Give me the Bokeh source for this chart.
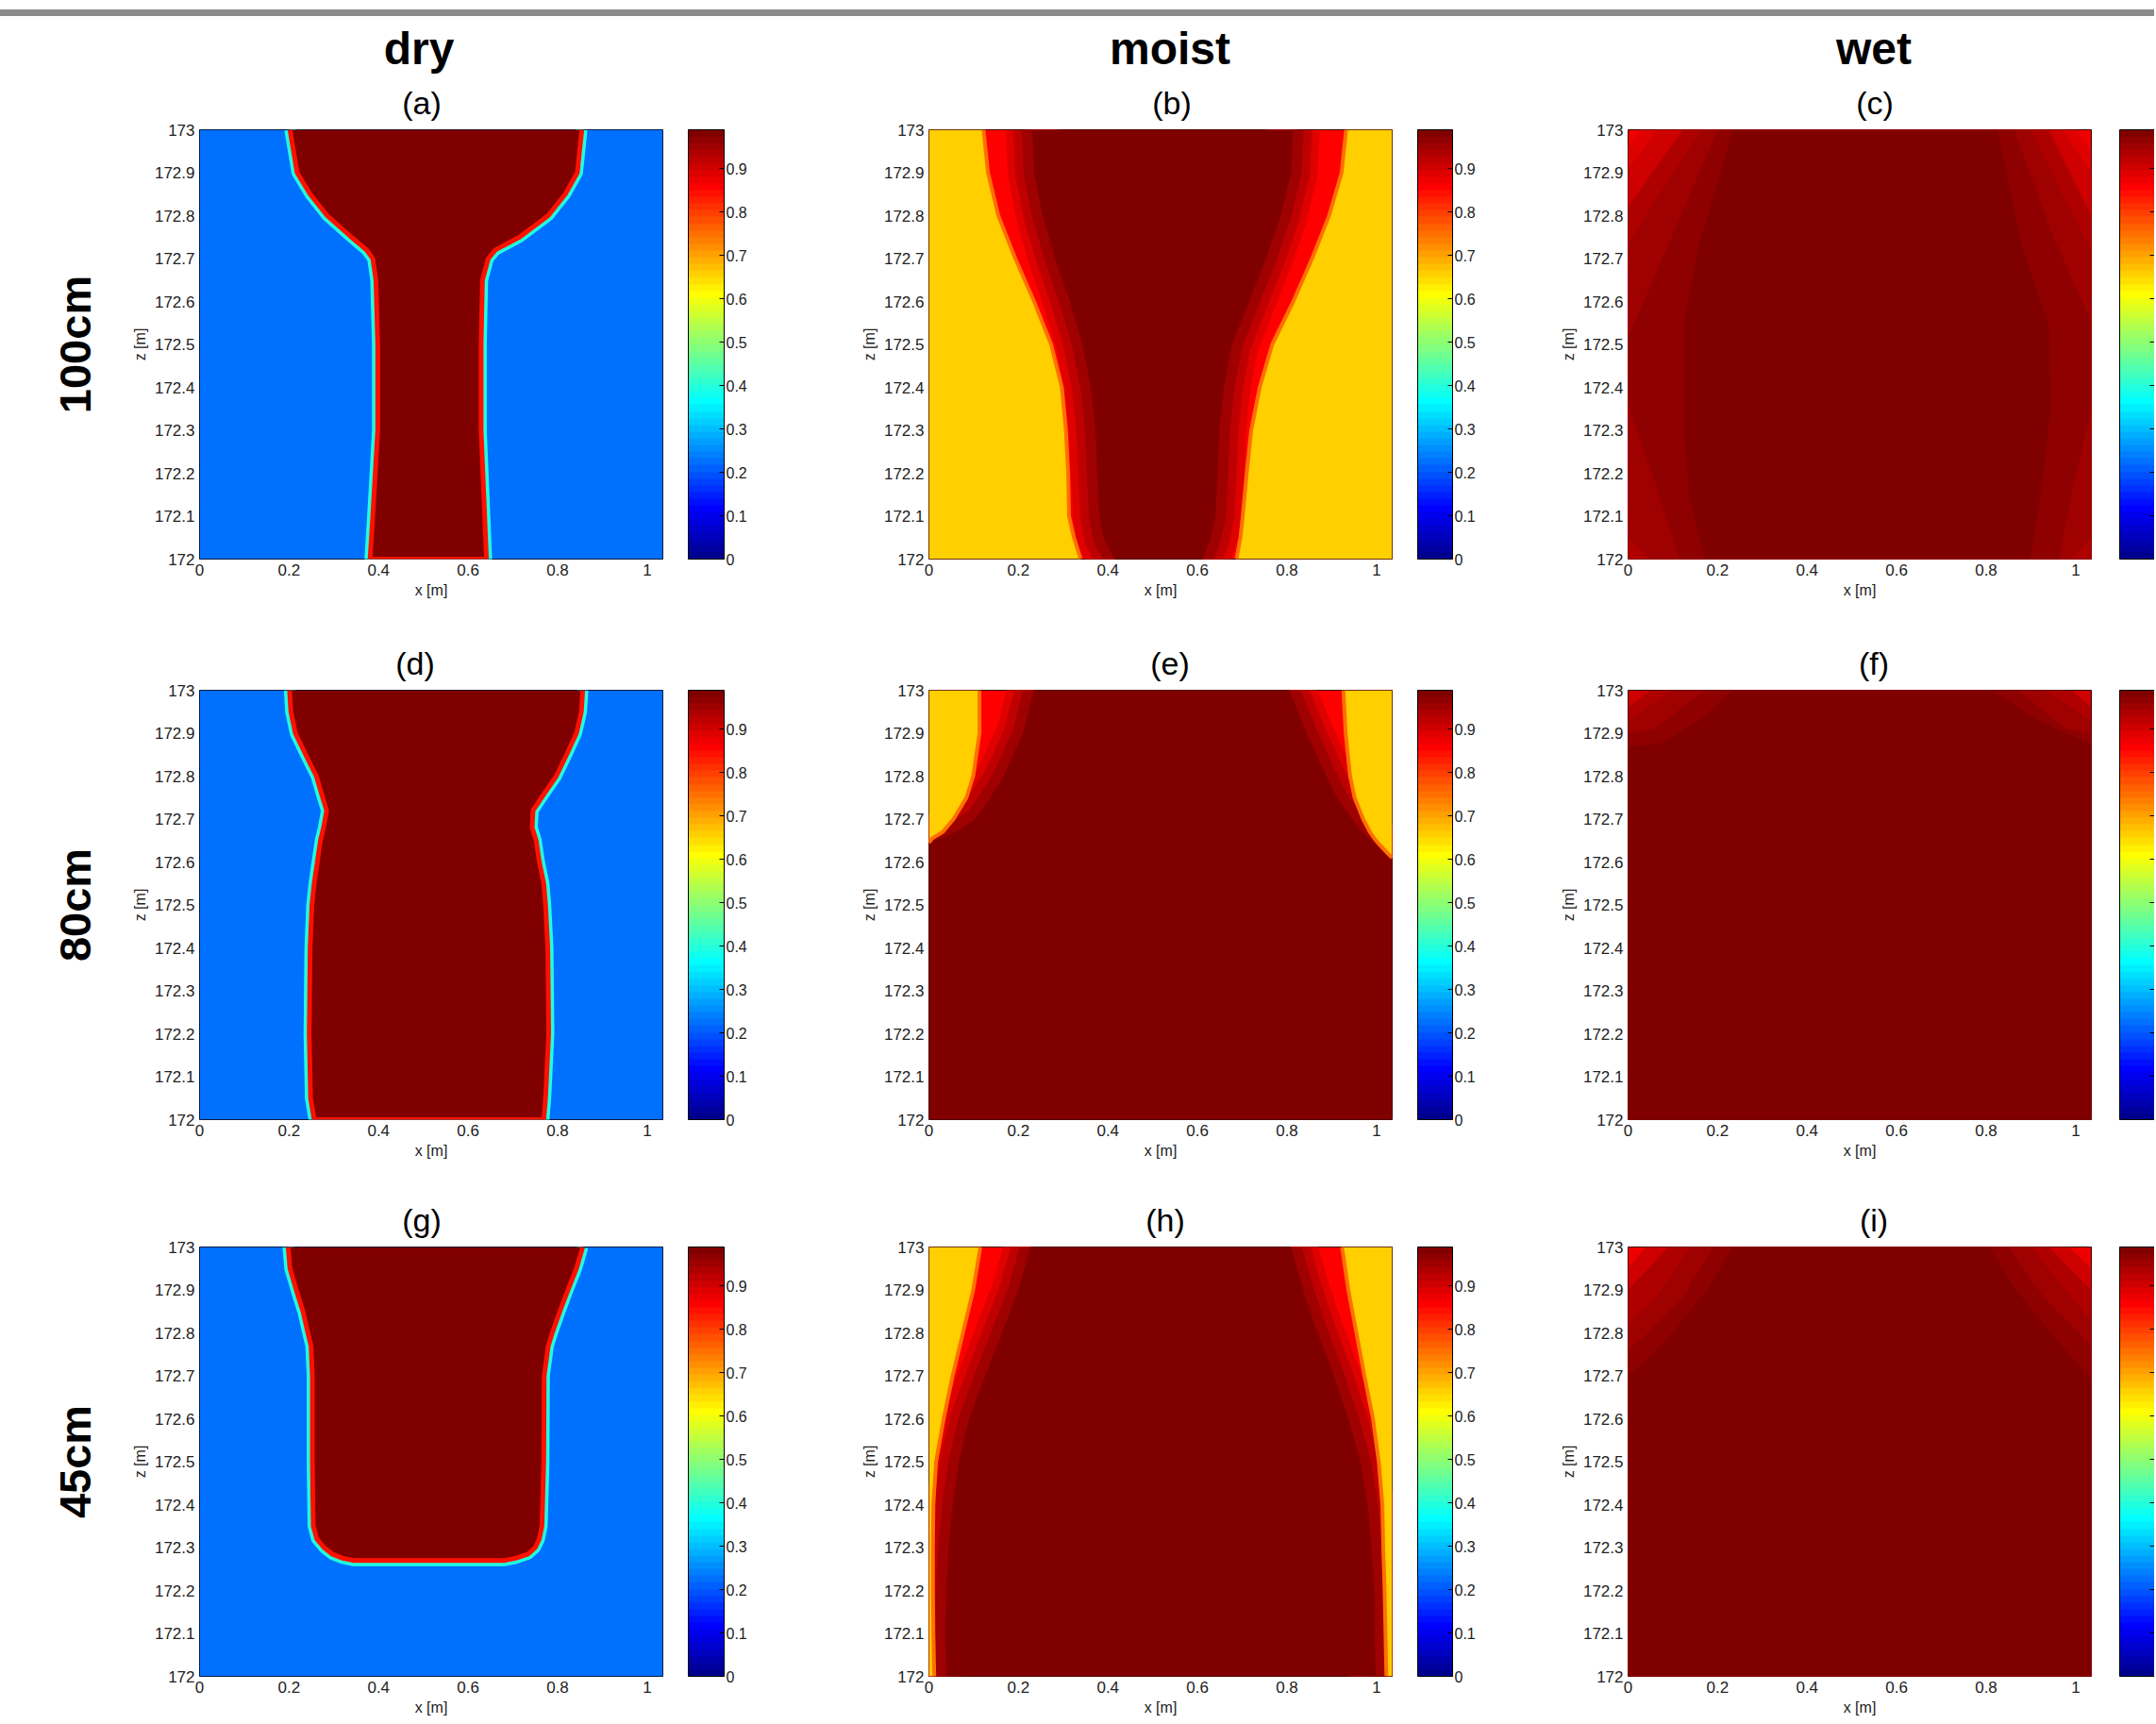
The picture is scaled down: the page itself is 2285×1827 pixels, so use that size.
from bokeh.plotting import figure
from bokeh.models import (ColumnDataSource, LinearColorMapper, ColorBar, FixedTicker,
                          CustomJSTickFormatter, Title, Range1d, Div)
from bokeh.layouts import column, row
from bokeh.embed import file_html
from bokeh.resources import INLINE

FONT = "Liberation Sans"

# ---------------- axes / labels ----------------
XMAX = 1.035
ZMIN, ZMAX = 172.0, 173.0
X_TICKS = [0.0, 0.2, 0.4, 0.6, 0.8, 1.0]
Z_TICKS = [172.0, 172.1, 172.2, 172.3, 172.4, 172.5, 172.6, 172.7, 172.8, 172.9, 173.0]
CB_TICKS = [0.0, 0.1, 0.2, 0.3, 0.4, 0.5, 0.6, 0.7, 0.8, 0.9]
CB_HIGH = 0.99
COL_TITLES = ["dry", "moist", "wet"]
ROW_LABELS = ["100cm", "80cm", "45cm"]
PANEL_LABELS = [["(a)", "(b)", "(c)"], ["(d)", "(e)", "(f)"], ["(g)", "(h)", "(i)"]]

# ---------------- field values ----------------
PLUME = 0.99
DRY_BG = 0.22
DRY_EDGE_OUT = 0.40
DRY_EDGE_IN = 0.85
MOIST_BG = 0.655
MOIST_RED = 0.86
MOIST_BANDS = [0.889, 0.92, 0.95]
MOIST_EDGE = 0.75

# dry: plume boundary (z, left x, right x)
A_Z = [173.0, 172.9, 172.85, 172.8, 172.75, 172.72, 172.7, 172.65, 172.5, 172.3, 172.1, 172.0]
A_XL = [0.202, 0.218, 0.247, 0.285, 0.339, 0.373, 0.387, 0.394, 0.398, 0.398, 0.387, 0.381]
A_XR = [0.854, 0.844, 0.817, 0.779, 0.715, 0.661, 0.645, 0.632, 0.629, 0.629, 0.637, 0.641]

D_Z = [173.0, 172.95, 172.9, 172.85, 172.8, 172.75, 172.72, 172.68, 172.65, 172.6, 172.55, 172.5, 172.4, 172.2, 172.05, 172.0]
D_XL = [0.201, 0.204, 0.214, 0.237, 0.261, 0.275, 0.284, 0.277, 0.270, 0.263, 0.256, 0.251, 0.247, 0.245, 0.248, 0.256]
D_XR = [0.856, 0.853, 0.842, 0.820, 0.797, 0.764, 0.745, 0.743, 0.752, 0.759, 0.769, 0.773, 0.778, 0.780, 0.773, 0.769]

G_Z = [173.0, 172.95, 172.9, 172.85, 172.8, 172.77, 172.7, 172.5, 172.35, 172.32, 172.3, 172.285, 172.275, 172.27]
G_XL = [0.198, 0.202, 0.216, 0.231, 0.242, 0.249, 0.252, 0.252, 0.254, 0.262, 0.278, 0.296, 0.320, 0.343]
G_XR = [0.856, 0.842, 0.823, 0.805, 0.788, 0.779, 0.770, 0.769, 0.765, 0.759, 0.750, 0.734, 0.706, 0.682]

# moist: outer edge of the plume and its saturated core
B_Z = [173.0, 172.9, 172.8, 172.7, 172.6, 172.5, 172.4, 172.3, 172.2, 172.1, 172.05, 172.0]
B_OUT_XL = [0.122, 0.132, 0.155, 0.193, 0.235, 0.273, 0.297, 0.306, 0.311, 0.313, 0.324, 0.339]
B_OUT_XR = [0.932, 0.922, 0.894, 0.856, 0.814, 0.767, 0.739, 0.720, 0.710, 0.701, 0.696, 0.687]
B_CORE_XL = [0.231, 0.235, 0.254, 0.282, 0.315, 0.343, 0.362, 0.372, 0.376, 0.381, 0.390, 0.414]
B_CORE_XR = [0.814, 0.809, 0.786, 0.753, 0.715, 0.677, 0.659, 0.649, 0.645, 0.640, 0.630, 0.612]

E_Z = [173.0, 172.9, 172.8, 172.75, 172.7, 172.67, 172.655, 172.645, 172.62, 172.61, 172.0]
E_OUT_XL = [0.113, 0.113, 0.099, 0.084, 0.055, 0.031, 0.007, 0.0, 0.0, 0.0, 0.0]
E_OUT_XR = [0.926, 0.931, 0.941, 0.951, 0.970, 0.985, 0.995, 1.003, 1.025, 1.035, 1.035]
E_CORE_XL = [0.234, 0.210, 0.167, 0.137, 0.104, 0.060, 0.025, 0.0, 0.0, 0.0, 0.0]
E_CORE_XR = [0.805, 0.844, 0.888, 0.912, 0.946, 0.968, 0.983, 0.993, 1.018, 1.035, 1.035]

H_Z = [173.0, 172.9, 172.8, 172.7, 172.6, 172.5, 172.4, 172.3, 172.2, 172.1, 172.0]
H_OUT_XL = [0.115, 0.099, 0.076, 0.053, 0.033, 0.016, 0.010, 0.009, 0.009, 0.010, 0.012]
H_OUT_XR = [0.923, 0.937, 0.955, 0.973, 0.992, 1.005, 1.013, 1.015, 1.018, 1.020, 1.022]
H_CORE_XL = [0.227, 0.200, 0.163, 0.126, 0.090, 0.067, 0.053, 0.044, 0.039, 0.037, 0.039]
H_CORE_XR = [0.809, 0.836, 0.868, 0.905, 0.937, 0.964, 0.980, 0.989, 0.995, 0.996, 0.998]

# wet: corner value and nested bands (value, z left, x left, z right, x right)
C_BG = 0.874
C_BANDS = [
    (0.889, [173.0, 172.96, 172.0], [0.03, 0.0, 0.0], [173.0, 172.95, 172.0], [1.0, 1.035, 1.035]),
    (0.905, [173.0, 172.908, 172.0], [0.066, 0.0, 0.0], [173.0, 172.9, 172.0], [0.97, 1.035, 1.035]),
    (0.936, [173.0, 172.821, 172.0], [0.122, 0.0, 0.0], [173.0, 172.8, 172.0], [0.94, 1.035, 1.035]),
    (0.951, [173.0, 172.85, 172.734, 172.05, 172.0], [0.164, 0.07, 0.0, 0.0, 0.05],
            [173.0, 172.85, 172.72, 172.05, 172.0], [0.90, 0.97, 1.035, 1.035, 0.99]),
    (0.967, [173.0, 172.756, 172.516, 172.364, 172.18, 172.0], [0.2, 0.1, 0.0, 0.0, 0.06, 0.115],
            [173.0, 172.75, 172.55, 172.35, 172.15, 172.0], [0.862, 0.95, 1.035, 1.035, 0.99, 0.963]),
    (0.99, [173.0, 172.727, 172.553, 172.291, 172.146, 172.0], [0.235, 0.157, 0.126, 0.126, 0.136, 0.171],
           [173.0, 172.73, 172.545, 172.36, 172.18, 172.0], [0.825, 0.88, 0.94, 0.945, 0.926, 0.899]),
]
F_BG = 0.905
F_BANDS = [
    (0.936, [173.0, 172.96, 172.0], [0.05, 0.0, 0.0], [173.0, 172.96, 172.0], [0.99, 1.035, 1.035]),
    (0.951, [173.0, 172.93, 172.0], [0.10, 0.0, 0.0], [173.0, 172.93, 172.0], [0.93, 1.035, 1.035]),
    (0.967, [173.0, 172.91, 172.9, 172.0], [0.17, 0.06, 0.0, 0.0], [173.0, 172.91, 172.9, 172.0], [0.87, 0.98, 1.035, 1.035]),
    (0.99, [173.0, 172.93, 172.875, 172.87, 172.0], [0.234, 0.16, 0.07, 0.0, 0.0],
           [173.0, 172.93, 172.89, 172.875, 172.0], [0.812, 0.915, 1.0, 1.035, 1.035]),
]
I_BG = 0.874
I_BANDS = [
    (0.905, [173.0, 172.95, 172.0], [0.04, 0.0, 0.0], [173.0, 172.95, 172.0], [0.985, 1.035, 1.035]),
    (0.936, [173.0, 172.9, 172.0], [0.09, 0.0, 0.0], [173.0, 172.9, 172.0], [0.94, 1.035, 1.035]),
    (0.951, [173.0, 172.88, 172.82, 172.0], [0.14, 0.06, 0.0, 0.0], [173.0, 172.87, 172.83, 172.0], [0.90, 1.0, 1.035, 1.035]),
    (0.967, [173.0, 172.88, 172.8, 172.76, 172.0], [0.19, 0.12, 0.045, 0.0, 0.0],
            [173.0, 172.88, 172.77, 172.0], [0.85, 0.93, 1.035, 1.035]),
    (0.99, [173.0, 172.9, 172.8, 172.75, 172.7, 172.0], [0.235, 0.175, 0.098, 0.055, 0.0, 0.0],
           [173.0, 172.9, 172.8, 172.72, 172.69, 172.0], [0.807, 0.867, 0.944, 1.012, 1.035, 1.035]),
]

# ---------------- layout (pixels) ----------------
FRAME_W, FRAME_H = 491, 455
COL_W = [800, 780, 703]
COL_LEFT = [211, 184, 145]
ROW_TOP = [119, 65, 60]
ROW_BOTTOM = [74, 75, 46]
CB_GAP = [27, 27, 30]
CB_W = [38, 37, 37]
LABEL_DX = [[-10, 12, 16], [-17, 10, 15], [-10, 5, 15]]
COLTITLE_DX = [-13, 10, 15]
LABEL_SIZE, TITLE_SIZE, ROWLABEL_SIZE = 34, 48, 47

# advance widths (per 1000 em) of the glyphs used in centred titles
ADV = {"(": 333, ")": 333, "a": 556, "b": 556, "c": 500, "d": 556, "e": 556, "f": 278,
       "g": 556, "h": 556, "i": 222}
ADV_BOLD = {"d": 611, "r": 389, "y": 556, "m": 889, "o": 611, "i": 278, "s": 556,
            "t": 333, "w": 778, "e": 556}


def text_w(s, size, bold=False):
    table = ADV_BOLD if bold else ADV
    return sum(table[ch] for ch in s) * size / 1000.0


def jet(n=64):
    q = n // 4
    u = [i / q for i in range(1, q + 1)] + [1.0] * (q - 1) + [i / q for i in range(q, 0, -1)]
    g = [q // 2 + i for i in range(1, len(u) + 1)]
    r = [k + q for k in g if k + q <= n]
    b = [k - q for k in g if k - q >= 1]
    R, G, B = [0.0] * n, [0.0] * n, [0.0] * n
    for i, k in enumerate(r):
        R[k - 1] = u[i]
    for i, k in enumerate(g):
        if k <= n:
            G[k - 1] = u[i]
    for i, k in enumerate(b):
        B[k - 1] = u[len(u) - len(b) + i]
    return ["#%02x%02x%02x" % (round(R[i] * 255), round(G[i] * 255), round(B[i] * 255)) for i in range(n)]


MAPPER = LinearColorMapper(palette=jet(64), low=0.0, high=CB_HIGH)
FMT = "return String(Math.round(tick * 10) / 10);"


def fill(p, xs, ys, vals):
    src = ColumnDataSource(dict(xs=xs, ys=ys, v=vals))
    p.patches("xs", "ys", source=src, fill_color={"field": "v", "transform": MAPPER},
              line_color=None)


def stroke(p, xs, ys, val, width):
    src = ColumnDataSource(dict(xs=xs, ys=ys, v=[val] * len(xs)))
    p.multi_line("xs", "ys", source=src, line_color={"field": "v", "transform": MAPPER},
                 line_width=width, line_join="round", line_cap="butt")


def background(p, val):
    src = ColumnDataSource(dict(l=[0.0], r=[XMAX], b=[ZMIN], t=[ZMAX], v=[val]))
    p.quad(left="l", right="r", bottom="b", top="t", source=src,
           fill_color={"field": "v", "transform": MAPPER}, line_color=None)


def closed(zl, xl, zr, xr):
    return list(xl) + list(xr)[::-1], list(zl) + list(zr)[::-1]


def trimmed(z, x, left=True):
    ox, oz = [], []
    for zz, xx in zip(z, x):
        ox.append(xx)
        oz.append(zz)
        if (left and xx <= 0.0) or ((not left) and xx >= XMAX):
            break
    return ox, oz


def draw_dry(p, z, xl, xr):
    background(p, DRY_BG)
    px, pz = closed(z, xl, z, xr)
    stroke(p, [px], [pz], DRY_EDGE_OUT, 12)
    fill(p, [px], [pz], [PLUME])
    stroke(p, [px], [pz], DRY_EDGE_IN, 5)


def draw_moist(p, z, oxl, oxr, cxl, cxr):
    background(p, MOIST_RED)
    lx, lz = trimmed(z, cxl, True)
    rx, rz = trimmed(z, cxr, False)
    for v, w in zip(MOIST_BANDS, (56, 40, 22)):
        stroke(p, [lx, rx], [lz, rz], v, w)
    cx, cz = closed(z, cxl, z, cxr)
    fill(p, [cx], [cz], [PLUME])
    yl_x = [0.0] + list(oxl) + [0.0]
    yr_x = [XMAX] + list(oxr) + [XMAX]
    yz = [z[0]] + list(z) + [z[-1]]
    fill(p, [yl_x, yr_x], [yz, yz], [MOIST_BG, MOIST_BG])
    olx, olz = trimmed(z, oxl, True)
    orx, orz = trimmed(z, oxr, False)
    stroke(p, [olx, orx], [olz, orz], MOIST_EDGE, 4)


def draw_wet(p, bg, bands):
    background(p, bg)
    xs, ys, vs = [], [], []
    for v, zl, xl, zr, xr in bands:
        bx, bz = closed(zl, xl, zr, xr)
        xs.append(bx)
        ys.append(bz)
        vs.append(v)
    fill(p, xs, ys, vs)


def make_fig(r, c):
    left = COL_LEFT[c]
    p = figure(frame_width=FRAME_W, frame_height=FRAME_H,
               x_range=Range1d(0.0, XMAX), y_range=Range1d(ZMIN, ZMAX),
               min_border_left=left, min_border_right=COL_W[c] - left - FRAME_W,
               min_border_top=ROW_TOP[r], min_border_bottom=ROW_BOTTOM[r],
               output_backend="svg", toolbar_location=None, title=None)
    p.grid.visible = False
    p.outline_line_color = "black"
    p.outline_line_width = 1
    p.background_fill_color = "white"
    for ax, ticks, lab in ((p.xaxis[0], X_TICKS, "x [m]"), (p.yaxis[0], Z_TICKS, "z [m]")):
        ax.ticker = FixedTicker(ticks=ticks)
        ax.formatter = CustomJSTickFormatter(code=FMT)
        ax.axis_label = lab
        ax.axis_label_text_font = FONT
        ax.axis_label_text_font_size = "16px"
        ax.axis_label_text_font_style = "normal"
        ax.axis_label_text_color = "#222222"
        ax.axis_label_standoff = 4
        ax.major_label_text_font = FONT
        ax.major_label_text_font_size = "17px"
        ax.major_label_text_color = "#222222"
        ax.major_label_standoff = 5
        ax.axis_line_color = None
        ax.major_tick_line_color = None
        ax.minor_tick_line_color = None
        ax.major_tick_in = 0
        ax.major_tick_out = 0

    cb = ColorBar(color_mapper=MAPPER, location=(FRAME_W + CB_GAP[c], 0),
                  orientation="vertical", width=CB_W[c], height=FRAME_H,
                  padding=0, margin=0,
                  ticker=FixedTicker(ticks=CB_TICKS),
                  formatter=CustomJSTickFormatter(code=FMT if c < 2 else "return '';"),
                  major_label_text_font=FONT, major_label_text_font_size="16px",
                  major_label_text_color="#222222",
                  major_tick_line_color="black", major_tick_in=5, major_tick_out=0,
                  minor_tick_line_color=None, bar_line_color="black", bar_line_width=1,
                  border_line_color=None, background_fill_color=None, label_standoff=2)
    p.add_layout(cb, "center")

    lab = PANEL_LABELS[r][c]
    off = FRAME_W / 2 + LABEL_DX[r][c] - text_w(lab, LABEL_SIZE) / 2
    p.add_layout(Title(text=lab, align="left", offset=off, text_font=FONT,
                       text_font_size="%dpx" % LABEL_SIZE, text_font_style="normal",
                       text_color="black", standoff=20), "above")
    if r == 0:
        ttl = COL_TITLES[c]
        off = FRAME_W / 2 + COLTITLE_DX[c] - text_w(ttl, TITLE_SIZE, True) / 2
        p.add_layout(Title(text=ttl, align="left", offset=off, text_font=FONT,
                           text_font_size="%dpx" % TITLE_SIZE, text_font_style="bold",
                           text_color="black", standoff=0), "above")
    if c == 0:
        p.add_layout(Title(text=ROW_LABELS[r], align="center", text_font=FONT,
                           text_font_size="%dpx" % ROWLABEL_SIZE, text_font_style="bold",
                           text_color="black", standoff=62), "left")
    return p


figs = [[make_fig(r, c) for c in range(3)] for r in range(3)]

draw_dry(figs[0][0], A_Z, A_XL, A_XR)
draw_dry(figs[1][0], D_Z, D_XL, D_XR)
draw_dry(figs[2][0], G_Z, G_XL, G_XR)
draw_moist(figs[0][1], B_Z, B_OUT_XL, B_OUT_XR, B_CORE_XL, B_CORE_XR)
draw_moist(figs[1][1], E_Z, E_OUT_XL, E_OUT_XR, E_CORE_XL, E_CORE_XR)
draw_moist(figs[2][1], H_Z, H_OUT_XL, H_OUT_XR, H_CORE_XL, H_CORE_XR)
draw_wet(figs[0][2], C_BG, C_BANDS)
draw_wet(figs[1][2], F_BG, F_BANDS)
draw_wet(figs[2][2], I_BG, I_BANDS)

bar = Div(text='<div style="margin-top:10px;height:7px;background:#8a8a8a;width:2283px"></div>',
          width=sum(COL_W), height=18, margin=0)

layout = column(bar, *[row(*figs[r], spacing=0) for r in range(3)], spacing=0)

with open("out.html", "w") as f:
    f.write(file_html(layout, INLINE, title="plume"))
